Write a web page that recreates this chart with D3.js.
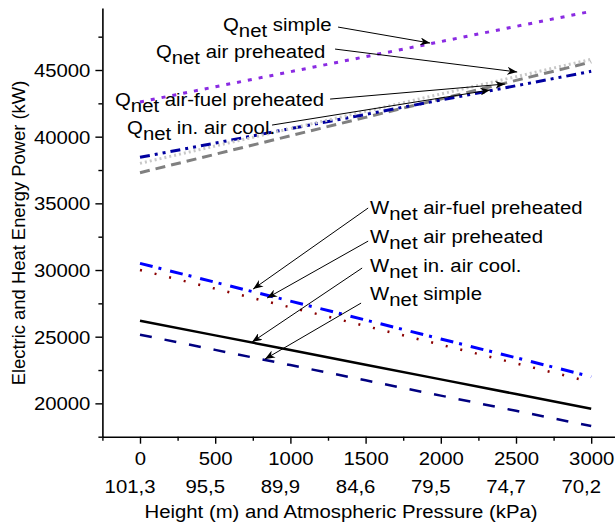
<!DOCTYPE html>
<html>
<head>
<meta charset="utf-8">
<script src="https://cdn.jsdelivr.net/npm/d3@7"></script>
<style>
  body { margin: 0; background: #fff; }
  svg { display: block; font-family: "Liberation Sans", Arial, sans-serif; }
  text { white-space: pre; }
</style>
</head>
<body>
<div id="chart"></div>
<script>
// values
const heights = [0, 500, 1000, 1500, 2000, 2500, 3000];
const pressures = ["101,3", "95,5", "89,9", "84,6", "79,5", "74,7", "70,2"];

const qSimple     = [42600, 43740, 44870, 46000, 47130, 48270, 49400];
const qAirPre     = [38000, 39300, 40600, 41900, 43200, 44500, 45800];
const qAirFuelPre = [37300, 38680, 40070, 41450, 42830, 44220, 45600];
const qInAirCool  = [38450, 39520, 40600, 41670, 42750, 43820, 44900];

const wAirFuelPre = [30500, 29080, 27670, 26250, 24830, 23420, 22000];
const wAirPre     = [30000, 28600, 27200, 25800, 24400, 23000, 21600];
const wInAirCool  = [26200, 25100, 24000, 22900, 21800, 20700, 19600];
const wSimple     = [25150, 24010, 22870, 21730, 20580, 19440, 18300];

const yTicks = [20000, 25000, 30000, 35000, 40000, 45000];
const yMinor = [17500, 22500, 27500, 32500, 37500, 42500, 47500];
const xMinor = [-250, 250, 750, 1250, 1750, 2250, 2750, 3250];

const width = 615, height = 522;
const SX = 1.13;   // the original text is drawn a bit wide

const svg = d3.select("#chart").append("svg")
    .attr("width", width)
    .attr("height", height);

const x = d3.scaleLinear().domain([-250, 3250]).range([102.4, 628.8]);
const y = d3.scaleLinear().domain([17500, 49650]).range([436.7, 8]);

// series styles
const series = [
    { values: qAirFuelPre, color: "#808080", width: 3,   dash: "10,6" },
    { values: qInAirCool,  color: "#0000a0", width: 3,   dash: "10,5,3,5,3,5" },
    { values: qAirPre,     color: "#c8c8c8", width: 3,   dash: "2,3" },
    { values: qSimple,     color: "#8a2be2", width: 3,   dash: "4,7" },
    { values: wSimple,     color: "#000080", width: 2.5, dash: "12,13" },
    { values: wInAirCool,  color: "#000000", width: 2.5, dash: null },
    { values: wAirPre,     color: "#8b0000", width: 2.5, dash: "2,13" },
    { values: wAirFuelPre, color: "#0000ff", width: 3,   dash: "13,6,3,9" }
];

const line = d3.line()
    .x((d, i) => x(heights[i]))
    .y(d => y(d));

svg.append("g").selectAll("path")
    .data(series)
    .enter()
    .append("path")
    .attr("d", d => line(d.values))
    .attr("fill", "none")
    .attr("stroke", d => d.color)
    .attr("stroke-width", d => d.width)
    .attr("stroke-dasharray", d => d.dash);

// axes
const xAxis = svg.append("g")
    .attr("transform", `translate(0,${y(17500)})`)
    .call(d3.axisBottom(x).tickValues(heights).tickFormat(d3.format("d")).tickSize(7).tickSizeOuter(0));
xAxis.select(".domain").attr("stroke-width", 1.6);
xAxis.selectAll(".tick line").attr("stroke-width", 1.4);
xAxis.selectAll(".tick text")
    .attr("y", 28).attr("dy", 0)
    .attr("font-size", 18).attr("fill", "#000")
    .attr("transform", `scale(${SX},1)`);

svg.append("g")
    .attr("transform", `translate(0,${y(17500)})`)
    .call(d3.axisBottom(x).tickValues(xMinor).tickSize(4).tickFormat(""))
    .call(g => g.select(".domain").remove())
    .selectAll(".tick line").attr("stroke-width", 1.4);

const yAxis = svg.append("g")
    .attr("transform", `translate(${x(-250)},0)`)
    .call(d3.axisLeft(y).tickValues(yTicks).tickFormat(d3.format("d")).tickSize(7).tickSizeOuter(0));
yAxis.select(".domain").attr("stroke-width", 1.6);
yAxis.selectAll(".tick line").attr("stroke-width", 1.4);
yAxis.selectAll(".tick text")
    .attr("x", -12 / SX).attr("dy", "0.36em")
    .attr("font-size", 18).attr("fill", "#000")
    .attr("transform", `scale(${SX},1)`);

svg.append("g")
    .attr("transform", `translate(${x(-250)},0)`)
    .call(d3.axisLeft(y).tickValues(yMinor).tickSize(4).tickFormat(""))
    .call(g => g.select(".domain").remove())
    .selectAll(".tick line").attr("stroke-width", 1.4);

// second row of x labels: pressure
svg.append("g").selectAll("g")
    .data(pressures)
    .enter()
    .append("g")
    .attr("transform", (d, i) => `translate(${x(heights[i]) - 10},493) scale(${SX},1)`)
    .append("text")
    .attr("text-anchor", "middle")
    .attr("font-size", 18)
    .text(d => d);

// axis titles
svg.append("g")
    .attr("transform", `translate(341,518) scale(${SX},1)`)
    .append("text")
    .attr("text-anchor", "middle")
    .attr("font-size", 18)
    .text("Height (m) and Atmospheric Pressure (kPa)");

svg.append("text")
    .attr("transform", "translate(25,233) rotate(-90)")
    .attr("text-anchor", "middle")
    .attr("font-size", 18.4)
    .text("Electric and Heat Energy Power (kW)");

// annotations, placed in data units
const notes = [
    { sym: "Q", text: "simple",             at: [552, 47920],  from: [1317, 48220], to: [1929, 47020] },
    { sym: "Q", text: "air preheated",      at: [106, 45900],  from: [1297, 46570], to: [2508, 44850] },
    { sym: "Q", text: "air-fuel preheated", at: [-166, 42300], from: [1264, 42820], to: [2428, 43950] },
    { sym: "Q", text: "in. air cool.",      at: [-86, 40200],  from: [878, 40870],  to: [2328, 43500] },
    { sym: "W", text: "air-fuel preheated", at: [1530, 34200], from: [1517, 34650], to: [752, 28570] },
    { sym: "W", text: "air preheated",      at: [1530, 32020], from: [1517, 32170], to: [845, 27900] },
    { sym: "W", text: "in. air cool.",      at: [1530, 29850], from: [1477, 30150], to: [745, 24600] },
    { sym: "W", text: "simple",             at: [1530, 27750], from: [1470, 27520], to: [831, 23320] }
];

svg.append("defs").append("marker")
    .attr("id", "arrow")
    .attr("viewBox", "0 0 10 8")
    .attr("refX", 10).attr("refY", 4)
    .attr("markerWidth", 10).attr("markerHeight", 8)
    .attr("markerUnits", "userSpaceOnUse")
    .attr("orient", "auto")
    .append("path")
    .attr("d", "M0,0 L10,4 L0,8 L3,4 Z")
    .attr("fill", "#000");

svg.append("g").selectAll("line")
    .data(notes)
    .enter()
    .append("line")
    .attr("x1", d => x(d.from[0])).attr("y1", d => y(d.from[1]))
    .attr("x2", d => x(d.to[0])).attr("y2", d => y(d.to[1]))
    .attr("stroke", "#000")
    .attr("stroke-width", 1)
    .attr("marker-end", "url(#arrow)");

const labels = svg.append("g").selectAll("g")
    .data(notes)
    .enter()
    .append("g")
    .attr("transform", d => `translate(${x(d.at[0])},${y(d.at[1])}) scale(${SX},1)`)
    .append("text")
    .attr("font-size", 18)
    .attr("fill", "#000");

labels.append("tspan").text(d => d.sym);
labels.append("tspan").attr("dy", 6).text("net");
labels.append("tspan").attr("dy", -6).text(d => " " + d.text);
</script>
</body>
</html>
